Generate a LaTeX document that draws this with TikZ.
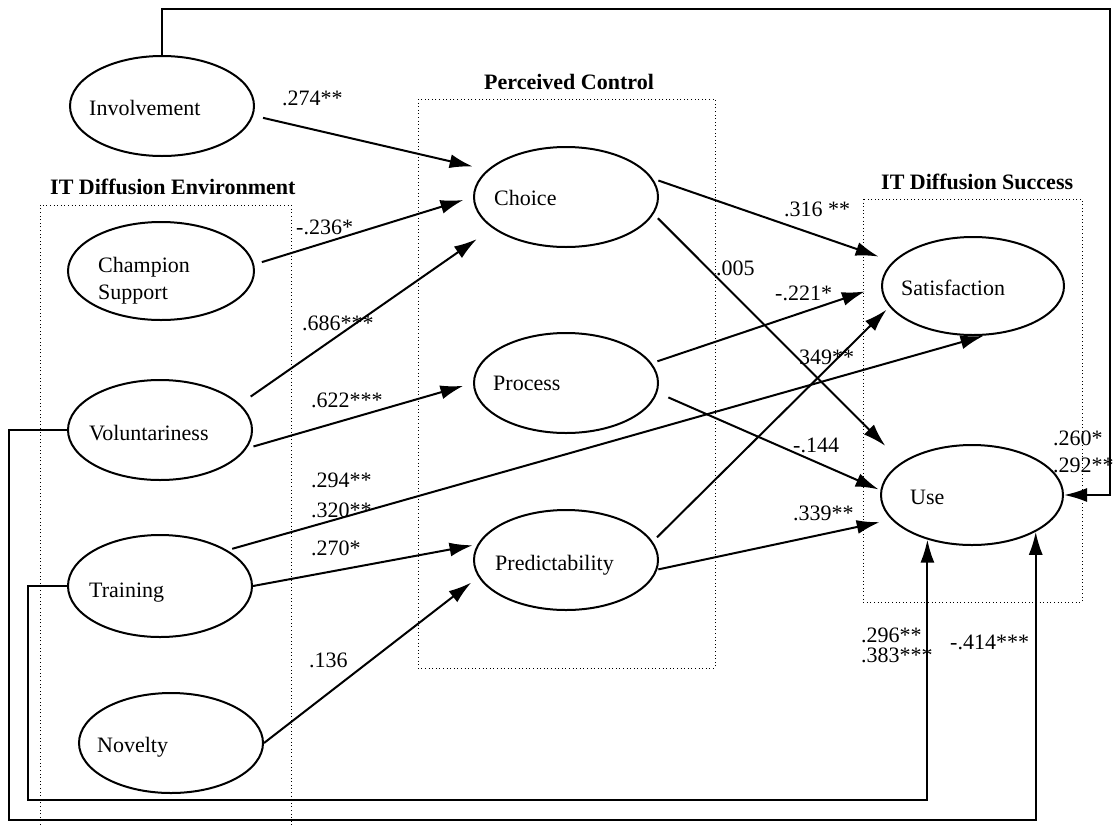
\documentclass[tikz,border=0pt]{standalone}
\usepackage{fontspec}
\setmainfont{Liberation Serif}
\usetikzlibrary{shapes.geometric,arrows.meta}
\begin{document}
\begin{tikzpicture}[x=1pt,y=-1pt,
  every node/.style={font=\fontsize{22}{26}\selectfont},
  ell/.style={ellipse,draw,line width=2pt,inner sep=0pt,minimum width=184pt,minimum height=100pt},
  lbl/.style={anchor=base west,inner sep=0pt},
  ttl/.style={anchor=base west,inner sep=0pt,font=\fontsize{22}{26}\selectfont\bfseries},
  tip/.style={-{Latex[length=23pt,width=14pt]}},
  conn/.style={line width=2pt,tip},
  fb/.style={line width=2pt,tip},
  grp/.style={dash pattern=on 1pt off 2.6pt,line width=1pt}]
\useasboundingbox (0,0) rectangle (1115,825);

% group frames
\draw[grp] (40,825) -- (40,205) -- (291,205) -- (291,825);
\draw[grp] (418,99) rectangle (715,668);
\draw[grp] (863,199) rectangle (1082,602);

% group titles
\node[ttl] (tEnv) at (50,194) {IT Diffusion Environment};
\node[ttl] (tPC) at (484,89) {Perceived Control};
\node[ttl] (tSucc) at (881,189) {IT Diffusion Success};

% ellipses
\node[ell] (inv) at (162,106) {};
\node[ell,minimum width=186pt,minimum height=98pt] (champ) at (161,271) {};
\node[ell] (vol) at (160,430) {};
\node[ell,minimum height=102pt] (train) at (160,586) {};
\node[ell] (nov) at (171,743) {};
\node[ell] (choice) at (566,197) {};
\node[ell] (process) at (566,383) {};
\node[ell] (pred) at (566,560) {};
\node[ell,minimum width=182pt,minimum height=98pt] (sat) at (973,286) {};
\node[ell,minimum width=182pt] (use) at (972,495) {};

% ellipse texts
\node[lbl] (invT) at (89,115) {Involvement};
\node[lbl] (champT) at (98,272) {Champion};
\node[lbl] (champT2) at (98,299) {Support};
\node[lbl] (volT) at (89,440) {Voluntariness};
\node[lbl] (trainT) at (89,597) {Training};
\node[lbl] (novT) at (97,752) {Novelty};
\node[lbl] (choiceT) at (494,205) {Choice};
\node[lbl] (processT) at (493,390) {Process};
\node[lbl] (predT) at (495,570) {Predictability};
\node[lbl] (satT) at (901,295) {Satisfaction};
\node[lbl] (useT) at (910,504) {Use};

% connectors
\draw[conn,shorten <=10pt,shorten >=15pt] (inv.-6) -- (choice.161);
\draw[conn,shorten <=8pt,shorten >=10pt] (champ.4) -- (choice.west);
\draw[conn,shorten <=13pt,shorten >=19pt] (vol.18) -- (choice.203);
\draw[conn,shorten <=7pt,shorten >=10pt] (vol.-12) -- (process.west);
\draw[conn,shorten <=5pt,shorten >=1pt] (train.28) -- (sat.-77);
\draw[conn,shorten >=5pt] (train.east) -- (pred.170);
\draw[conn,shorten >=9pt] (nov.east) -- (pred.191);
\draw[conn,shorten <=6pt,shorten >=15pt] (choice.12) -- (sat.163);
\draw[conn,shorten <=6pt,shorten >=23pt] (choice.-11) -- (use.155);
\draw[conn,shorten <=6pt,shorten >=17pt] (process.13) -- (sat.west);
\draw[conn,shorten <=12pt,shorten >=2pt] (process.-6) -- (use.177);
\draw[conn,shorten <=6pt,shorten >=4pt] (pred.12) -- (sat.194);
\draw[conn,shorten <=1pt,shorten >=12pt] (pred.-6) -- (use.197);

% feedback lines
\coordinate (topR) at (1110,9);
\coordinate (outBL) at (9,820);
\coordinate (inBL) at (28,800);
\draw[fb] (inv.north) |- (topR) |- (use.east);
\draw[fb] (vol.west) -| (outBL) -| (use.-30);
\draw[fb] (train.west) -| (inBL) -| (use.225);

% coefficients
\node[lbl] (c1) at (282,105) {.274**};
\node[lbl] (c2) at (296,234) {-.236*};
\node[lbl] (c3) at (302,330) {.686***};
\node[lbl] (c4) at (311,407) {.622***};
\node[lbl] (c5) at (311,487) {.294**};
\node[lbl] (c6) at (311,517) {.320**};
\node[lbl] (c7) at (311,555) {.270*};
\node[lbl] (c8) at (309,667) {.136};
\node[lbl] (c9) at (784,216) {.316 **};
\node[lbl] (c10) at (716,275) {.005};
\node[lbl] (c11) at (775,300) {-.221*};
\node[lbl] (c12) at (799,364) {349**};
\node[lbl] (c13) at (793,452) {-.144};
\node[lbl] (c14) at (793,520) {.339**};
\node[lbl] (c15) at (1053,445) {.260*};
\node[lbl] (c16) at (1053,472) {.292**};
\node[lbl] (c17) at (861,642) {.296**};
\node[lbl] (c18) at (861,662) {.383***};
\node[lbl] (c19) at (950,649) {-.414***};
\end{tikzpicture}
\end{document}
